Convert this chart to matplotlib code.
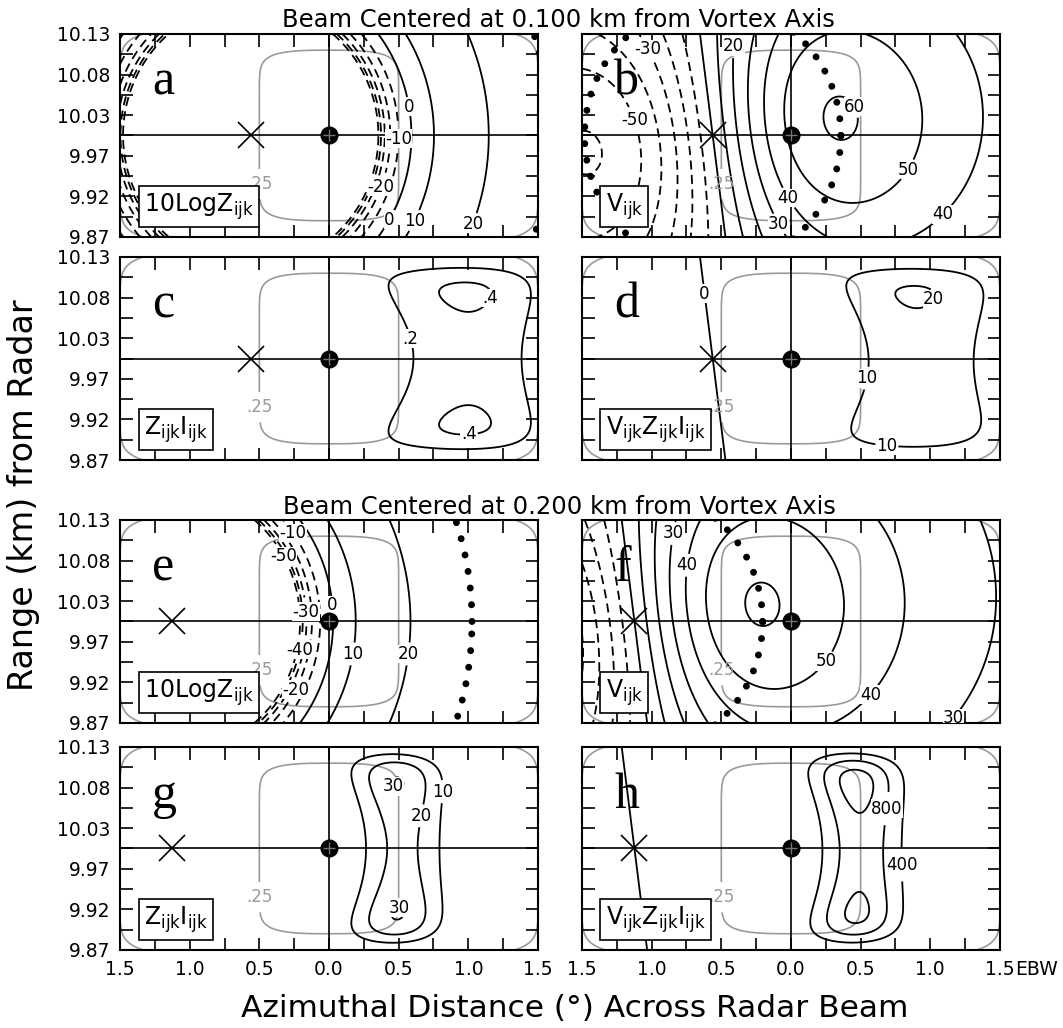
import numpy as np
import matplotlib.pyplot as plt
from matplotlib.ticker import FixedLocator

plt.rcParams['font.family'] = ['DejaVu Sans']
plt.rcParams['mathtext.fontset'] = 'dejavusans'

# ---- geometry / model parameters ----
EBW_KM = 0.178            # km per effective beam width near 10 km range
RANGE0 = 10.0             # beam centre range (km)
beam_offsets_km = [0.100, 0.200]

# gray beam-weight outline: W = 0.25 ** G
BEAM_HALF = 0.5           # EBW where W = .25 on the beam axis
RANGE_HALF = 0.105        # km where W = .25 at beam centre
BEAM_POW, RANGE_POW = 3, 12
gray_levels = [1.0, 27.06]

# reflectivity ring
Z_R0 = 0.87               # EBW, edge of echo-free eye
Z_RPEAK = 2.15            # EBW, ring of max reflectivity (dotted)
Z_P = 7.07
Z_MAX_DB = 22.4

# vortex wind
V_MAX = 60.3
R_CORE = 0.92             # EBW, core radius (dotted)
RADIAL_RATIO = 0.13
ALPHA = 1.25643

# weighted products
prod_gamma = [0.16, 0.93]
prod_beam_db = [0.48, 17.2]
prod_q = [6, 3]
prod_lobe = [0.4, 0.2]
D_LOBE = 0.083
D_EDGE = 0.11
zi_center_max = [0.33, 23.0]

dbz_levels = [-50, -40, -30, -20, -10, 0, 10, 20]
vel_levels = [-60, -50, -40, -30, -20, -10, 0, 10, 20, 30, 40, 50, 60]
zi_levels = [[0.2, 0.4, 0.6], [10, 20, 30]]
vzi_levels = [[0, 10, 20, 30], [0, 400, 800, 1200]]

xtick_major = [-1.5, -1.0, -0.5, 0.0, 0.5, 1.0, 1.5]
xtick_labels = ['1.5', '1.0', '0.5', '0.0', '0.5', '1.0', '1.5']
ytick_major = [10.125, 10.075, 10.025, 9.975, 9.925, 9.875]
ytick_labels = ['10.13', '10.08', '10.03', '9.97', '9.92', '9.87']

panel_letters = [['a', 'b', 'c', 'd'], ['e', 'f', 'g', 'h']]
titles = ['Beam Centered at 0.100 km from Vortex Axis',
          'Beam Centered at 0.200 km from Vortex Axis']

# contour label positions (x in EBW, y in km)
label_pos = {
    'a': [(0.53, 10.034), (0.5, 9.996), (0.36, 9.938), (0.47, 9.893), (0.64, 9.893), (1.0, 9.893)],
    'b': [(-0.98, 10.11), (-1.1, 10.02), (-0.45, 10.11), (0.4, 10.03), (0.82, 9.96),
          (-0.05, 9.92), (1.05, 9.91), (-0.1, 9.89)],
    'c': [(0.7, 10.03), (1.15, 10.075), (1.0, 9.92)],
    'd': [(-0.62, 10.08), (1.0, 10.075), (0.72, 9.97), (0.7, 9.915)],
    'e': [(-0.25, 10.11), (-0.33, 10.08), (-0.155, 10.012), (-0.2, 9.965), (-0.23, 9.915),
          (0.03, 10.02), (0.17, 9.96), (0.57, 9.96)],
    'f': [(-0.9, 10.11), (-0.78, 10.07), (0.22, 9.955), (0.57, 9.91), (1.1, 9.89)],
    'g': [(0.45, 10.075), (0.82, 10.07), (0.67, 10.04), (0.5, 9.925)],
    'h': [(0.65, 10.05), (0.8, 9.98)],
}

x = np.linspace(-1.5, 1.5, 601)
y = np.linspace(9.875, 10.125, 401)
X, Y = np.meshgrid(x, y)
ROW0 = np.argmin(np.abs(y - RANGE0))


def fields(offset_km, k):
    x0 = -offset_km / EBW_KM
    dx = (X - x0) * EBW_KM
    dy = Y - RANGE0
    rk = np.hypot(dx, dy) + 1e-9
    r = rk / EBW_KM
    u = np.clip((r - Z_R0) / (Z_RPEAK - Z_R0), 1e-9, None)
    dbz = Z_MAX_DB + 10 * Z_P * (np.log10(u) + (1 - u) / np.log(10))
    dbz = np.clip(dbz, -99, None)
    s = r / R_CORE
    vt = V_MAX * (1 + 1 / (2 * ALPHA)) / s * (1 - np.exp(-ALPHA * s ** 2))
    vd = vt * (dx + RADIAL_RATIO * dy) / rk
    raw_db = prod_gamma[k] * dbz - prod_beam_db[k] * np.abs(X) ** prod_q[k]
    raw = 10 ** (raw_db / 10) * (1 + prod_lobe[k] * (dy / D_LOBE) ** 2) * \
        np.exp(-(np.abs(dy) / D_EDGE) ** 8)
    zi = raw / raw[ROW0].max() * zi_center_max[k]
    return x0, dbz, vd, zi, vd * zi


G = (np.abs(X) / BEAM_HALF) ** BEAM_POW + (np.abs(Y - RANGE0) / RANGE_HALF) ** RANGE_POW

fig = plt.figure(figsize=(10.63, 10.28), dpi=100)
lefts = [0.1129, 0.5475]
bottoms = [0.7695, 0.5525, 0.2967, 0.0759]
W_AX, H_AX = 0.3932, 0.1975

dash = (0, (5, 3))
GRAY = '#9a9a9a'


def fmt_zi(v):
    return ('%.1f' % v).lstrip('0') if abs(v) < 1 and v != 0 else '%d' % v


for k, off in enumerate(beam_offsets_km):
    x0, dbz, vd, zi, vzi = fields(off, k)
    panels = [(dbz, dbz_levels, r'10LogZ$_{\rm ijk}$', 'Z'),
              (vd, vel_levels, r'V$_{\rm ijk}$', 'V'),
              (zi, zi_levels[k], r'Z$_{\rm ijk}$I$_{\rm ijk}$', None),
              (vzi, vzi_levels[k], r'V$_{\rm ijk}$Z$_{\rm ijk}$I$_{\rm ijk}$', None)]
    for p, (field, levels, name, ring) in enumerate(panels):
        row = 2 * k + p // 2
        col = p % 2
        letter = panel_letters[k][p]
        ax = fig.add_axes([lefts[col], bottoms[row], W_AX, H_AX])
        ax.set_xlim(-1.5, 1.5)
        ax.set_ylim(9.875, 10.125)

        ax.contour(X, Y, G, levels=[gray_levels[1]], colors=GRAY, linewidths=1.2, zorder=1)
        g = ax.contour(X, Y, G, levels=[gray_levels[0]], colors=GRAY, linewidths=1.2, zorder=1)
        ax.clabel(g, fmt={gray_levels[0]: '.25'}, fontsize=12, colors=GRAY,
                  manual=[(-0.5, 9.94)], inline=True, inline_spacing=2)
        for t in g.labelTexts:
            t.set_rotation(0)

        styles = [dash if lv < 0 else 'solid' for lv in levels]
        cs = ax.contour(X, Y, field, levels=levels, colors='k', linewidths=1.3,
                        linestyles=styles, zorder=2)
        ax.clabel(cs, fmt=fmt_zi, fontsize=12, manual=label_pos[letter], inline=True,
                  inline_spacing=1)
        for t in cs.labelTexts:
            t.set_rotation(0)
            t.set_zorder(3.5)
            t.set_bbox(dict(boxstyle='square,pad=0.02', fc='white', ec='none'))

        if ring is not None:
            rad = Z_RPEAK if ring == 'Z' else R_CORE
            t = np.linspace(0, 2 * np.pi, 400)
            ax.plot(x0 + rad * np.cos(t), RANGE0 + rad * EBW_KM * np.sin(t), color='k',
                    lw=5, ls=(0, (0.01, 2.4)), dash_capstyle='round', zorder=3)

        ax.axhline(RANGE0, color='k', lw=1.2, zorder=2)
        ax.axvline(0.0, color='k', lw=1.2, zorder=2)
        ax.plot(0, RANGE0, 'o', ms=12, color='k', zorder=4)
        ax.plot(0, RANGE0, '+', ms=9, mew=1, color='0.45', zorder=5)
        ax.plot(x0, RANGE0, 'x', ms=19, mew=1.2, color='k', zorder=4)

        ax.text(-1.27, 10.05, letter, fontsize=36, family='Liberation Serif', zorder=6)
        ax.text(-1.33, 9.906, name, fontsize=17, zorder=7,
                bbox=dict(boxstyle='square,pad=0.22', fc='white', ec='k', lw=1.2))

        ax.xaxis.set_major_locator(FixedLocator(xtick_major))
        ax.xaxis.set_minor_locator(FixedLocator(np.arange(-1.25, 1.5, 0.5)))
        ax.yaxis.set_major_locator(FixedLocator(ytick_major))
        ax.yaxis.set_minor_locator(FixedLocator([10.1, 10.05, 10.0, 9.95, 9.9]))
        ax.tick_params(which='both', direction='in', length=9, width=1.2,
                       top=True, right=True, labelsize=13.5, pad=7)
        if col == 0:
            ax.set_yticklabels(ytick_labels)
        else:
            ax.set_yticklabels([])
        if row == 3:
            ax.set_xticklabels(xtick_labels)
            if col == 1:
                ax.annotate('EBW', xy=(1, 0), xycoords='axes fraction', xytext=(10.7, -7),
                            textcoords='offset points', ha='left', va='top', fontsize=13.5)
        else:
            ax.set_xticklabels([])
        for sp in ax.spines.values():
            sp.set_linewidth(1.5)

fig.text(0.525, 0.981, titles[0], ha='center', va='center', fontsize=17.5)
fig.text(0.526, 0.507, titles[1], ha='center', va='center', fontsize=17.5)
fig.text(0.022, 0.518, 'Range (km) from Radar', rotation=90, ha='center', va='center', fontsize=24)
fig.text(0.541, 0.019, 'Azimuthal Distance (\u00b0) Across Radar Beam', ha='center', va='center',
         fontsize=22.5)

fig.savefig('out.png', dpi=100)
